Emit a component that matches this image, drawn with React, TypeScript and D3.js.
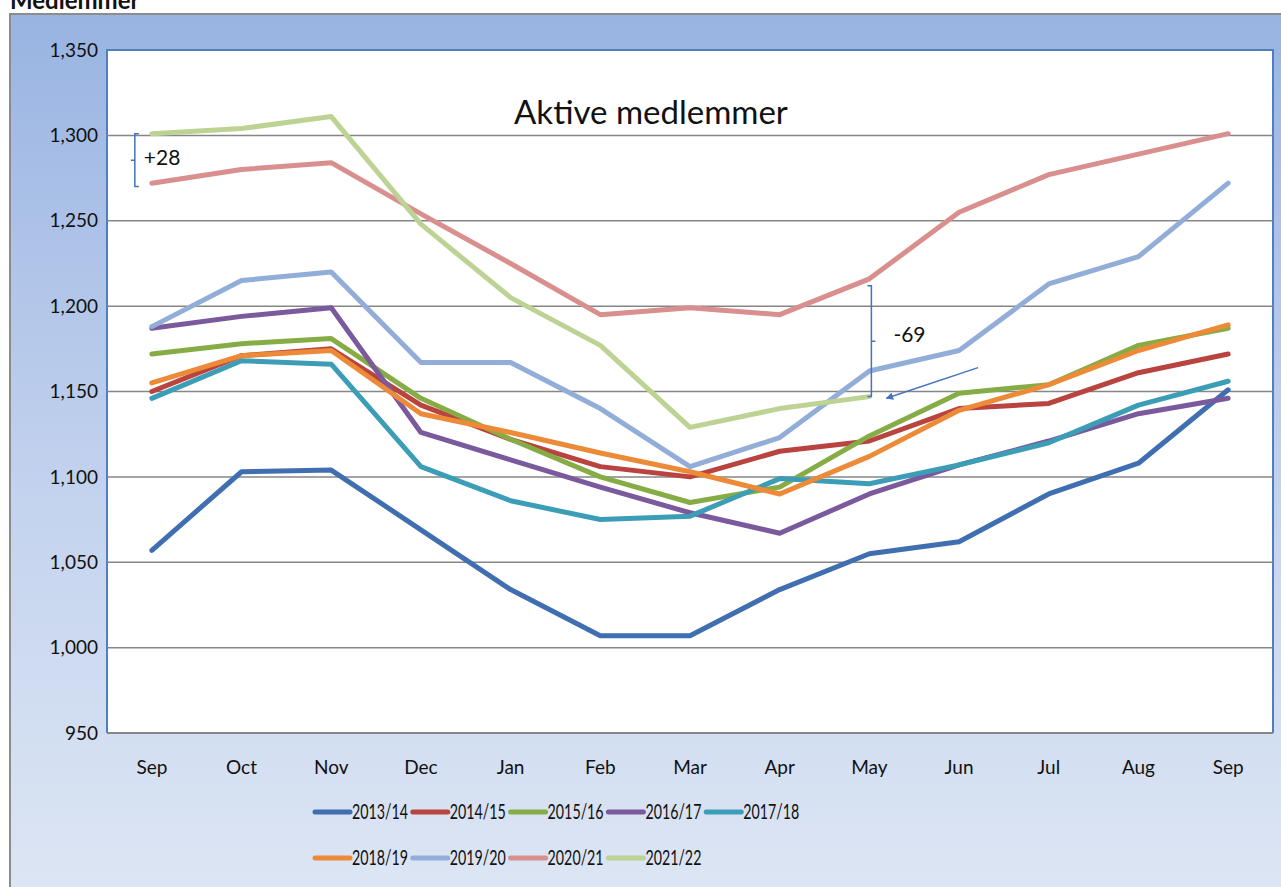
import * as React from "react"
import * as d3 from "d3"

const months = ["Sep", "Oct", "Nov", "Dec", "Jan", "Feb", "Mar", "Apr", "May", "Jun", "Jul", "Aug", "Sep"]
const yTicks = [950, 1000, 1050, 1100, 1150, 1200, 1250, 1300, 1350]

const seriesNames = ["2013/14", "2014/15", "2015/16", "2016/17", "2017/18", "2018/19", "2019/20", "2020/21", "2021/22"]
const seriesColors = ["#3f6fb0", "#b8433f", "#86ac45", "#7a5a9d", "#3c9db7", "#ec8a38", "#92add8", "#d88f8e", "#bcd394"]

const s2013 = [1057, 1103, 1104, 1069, 1034, 1007, 1007, 1034, 1055, 1062, 1090, 1108, 1151]
const s2014 = [1150, 1171, 1175, 1142, 1122, 1106, 1100, 1115, 1121, 1140, 1143, 1161, 1172]
const s2015 = [1172, 1178, 1181, 1146, 1122, 1100, 1085, 1094, 1124, 1149, 1154, 1177, 1187]
const s2016 = [1187, 1194, 1199, 1126, 1110, 1094, 1079, 1067, 1090, 1107, 1121, 1137, 1146]
const s2017 = [1146, 1168, 1166, 1106, 1086, 1075, 1077, 1099, 1096, 1107, 1120, 1142, 1156]
const s2018 = [1155, 1171, 1174, 1137, 1126, 1114, 1103, 1090, 1112, 1139, 1154, 1174, 1189]
const s2019 = [1188, 1215, 1220, 1167, 1167, 1140, 1106, 1123, 1162, 1174, 1213, 1229, 1272]
const s2020 = [1272, 1280, 1284, 1254, 1225, 1195, 1199, 1195, 1216, 1255, 1277, 1289, 1301]
const s2021 = [1301, 1304, 1311, 1248, 1205, 1177, 1129, 1140, 1147, null, null, null, null]

const seriesValues: (number | null)[][] = [s2013, s2014, s2015, s2016, s2017, s2018, s2019, s2020, s2021]

const W = 1281
const H = 887
const font = "Lato, 'Open Sans', sans-serif"

export default function App(): React.JSX.Element {
  const plot = { left: 107, right: 1273, top: 50, bottom: 733 }

  const xBand = d3
    .scaleBand<number>()
    .domain(months.map((_, i) => i))
    .range([plot.left, plot.right])
  const x = (i: number) => (xBand(i) as number) + xBand.bandwidth() / 2

  const y = d3.scaleLinear().domain([950, 1350]).range([plot.bottom, plot.top])

  const line = d3
    .line<number | null>()
    .defined((d) => d != null)
    .x((_, i) => x(i))
    .y((d) => y(d as number))

  const blue = "#4472c4"

  // brace +28 at first Sep
  const b1x = x(0) - 17
  const b1top = y(s2021[0] as number)
  const b1bot = y(1270)
  // brace -69 at May
  const b2x = x(8) + 2
  const b2top = y(1212)
  const b2bot = y(s2021[8] as number)
  const arrowFrom: [number, number] = [x(9) + 19, y(1164)]
  const arrowTo: [number, number] = [x(8) + 17, y(1146)]

  return (
    <svg
      width={W}
      height={H}
      style={{ position: "absolute", left: 0, top: 0, fontFamily: font }}
    >
      <defs>
        <linearGradient id="bg" x1="0" y1="0" x2="0" y2="1">
          <stop offset="0%" stopColor="#99b4e2" />
          <stop offset="55%" stopColor="#c4d3ee" />
          <stop offset="100%" stopColor="#dde6f4" />
        </linearGradient>
        <marker id="arr" viewBox="0 0 10 10" refX="9" refY="5" markerWidth="5" markerHeight="5" orient="auto">
          <path d="M0,0 L10,5 L0,10 z" fill={blue} />
        </marker>
      </defs>
      <rect x={0} y={0} width={W} height={H} fill="white" />
      <text x={10} y={9} fontSize={24} fontWeight="bold" fill="#111">
        Medlemmer
      </text>
      <rect x={10} y={14} width={W + 5} height={H} fill="url(#bg)" stroke="#8c8c8c" strokeWidth={2} />

      {/* plot area */}
      <rect x={plot.left} y={plot.top} width={plot.right - plot.left} height={plot.bottom - plot.top} fill="white" />
      <path
        d={`M${plot.left},${plot.bottom}V${plot.top}H${plot.right}V${plot.bottom}`}
        fill="none"
        stroke="#4f7fc0"
        strokeWidth={2}
      />

      {/* gridlines */}
      {yTicks.slice(1, -1).map((t) => (
        <line key={t} x1={plot.left} x2={plot.right} y1={y(t)} y2={y(t)} stroke="#868686" strokeWidth={1.5} />
      ))}
      <line x1={plot.left} x2={plot.right} y1={plot.bottom} y2={plot.bottom} stroke="#868686" strokeWidth={2} />

      {/* y tick labels */}
      {yTicks.map((t) => (
        <text key={t} x={98} y={y(t)} dy="0.35em" textAnchor="end" fontSize={19} fill="#111">
          {d3.format(",")(t)}
        </text>
      ))}

      {/* x tick labels */}
      {months.map((m, i) => (
        <text key={i} x={x(i)} y={767} dy="0.35em" textAnchor="middle" fontSize={19} fill="#111">
          {m}
        </text>
      ))}

      {/* series */}
      {seriesValues.map((vals, k) => (
        <path
          key={seriesNames[k]}
          d={line(vals) as string}
          fill="none"
          stroke={seriesColors[k]}
          strokeWidth={5}
          strokeLinejoin="round"
          strokeLinecap="round"
        />
      ))}

      {/* chart title */}
      <text x={651} y={112} dy="0.35em" textAnchor="middle" fontSize={33} fill="#111">
        Aktive medlemmer
      </text>

      {/* +28 annotation */}
      <path
        d={`M${b1x + 4},${b1top}H${b1x}V${b1bot}H${b1x + 4}M${b1x},${(b1top + b1bot) / 2}h-4`}
        fill="none"
        stroke={blue}
        strokeWidth={1.5}
      />
      <text x={b1x + 9} y={(b1top + b1bot) / 2 - 2} dy="0.35em" fontSize={21} fill="#111">
        +28
      </text>

      {/* -69 annotation */}
      <path
        d={`M${b2x - 4},${b2top}H${b2x}V${b2bot}H${b2x - 4}M${b2x},${(b2top + b2bot) / 2}h4`}
        fill="none"
        stroke={blue}
        strokeWidth={1.5}
      />
      <text x={b2x + 22} y={(b2top + b2bot) / 2 - 6} dy="0.35em" fontSize={21} fill="#111">
        -69
      </text>
      <line
        x1={arrowFrom[0]}
        y1={arrowFrom[1]}
        x2={arrowTo[0]}
        y2={arrowTo[1]}
        stroke={blue}
        strokeWidth={1.5}
        markerEnd="url(#arr)"
      />

      {/* legend */}
      {seriesNames.map((name, k) => {
        const col = k % 5
        const row = Math.floor(k / 5)
        const lx = 315 + col * 97.8
        const ly = 812 + row * 46
        return (
          <g key={name}>
            <line x1={lx} x2={lx + 35} y1={ly} y2={ly} stroke={seriesColors[k]} strokeWidth={5} strokeLinecap="round" />
            <text
              x={lx + 37}
              y={ly}
              dy="0.35em"
              fontSize={21}
              fill="#111"
              textLength={56}
              lengthAdjust="spacingAndGlyphs"
            >
              {name}
            </text>
          </g>
        )
      })}
    </svg>
  )
}
